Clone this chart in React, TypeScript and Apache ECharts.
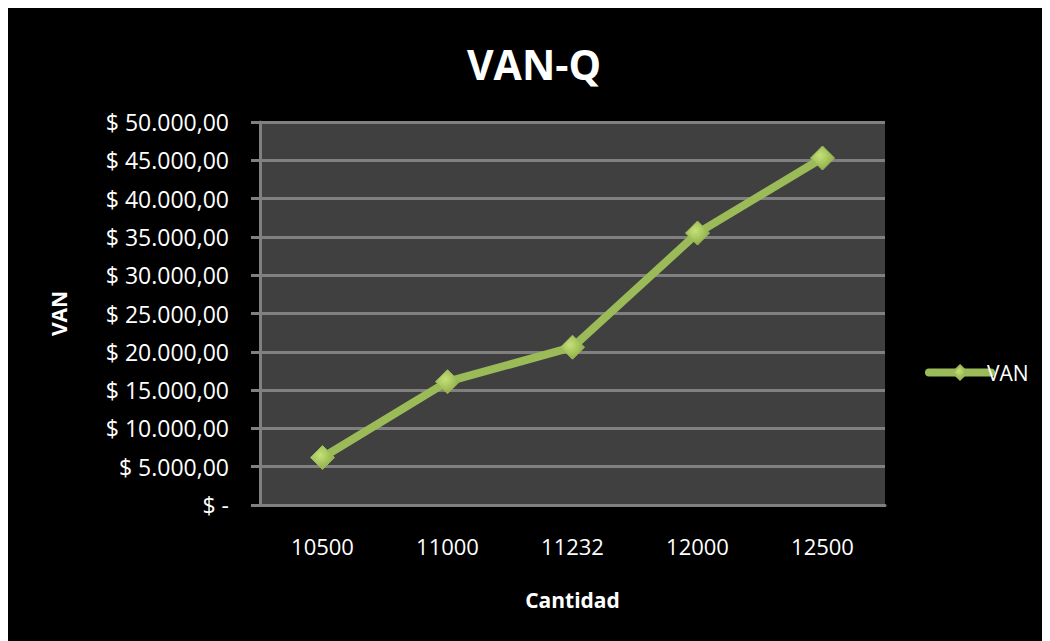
import React, { useEffect, useRef } from "react";
import * as echarts from "echarts";

const categories = ["10500", "11000", "11232", "12000", "12500"];
const vanValues = [6200, 16100, 20600, 35500, 45300];
const seriesName = "VAN";
const titleText = "VAN-Q";
const xName = "Cantidad";
const yName = "VAN";

function fmt(v: number): string {
  if (v === 0) return "$ -";
  const s = Math.round(v).toString().replace(/\B(?=(\d{3})+(?!\d))/g, ".");
  return "$ " + s + ",00";
}

const FONT = "'Open Sans', sans-serif";

export default function App() {
  const ref = useRef<HTMLDivElement>(null);
  useEffect(() => {
    if (!ref.current) return;
    const chart = echarts.init(ref.current, undefined, { renderer: "svg" });
    chart.setOption({
      animation: false,
      backgroundColor: "#000000",
      title: {
        text: titleText,
        left: 521,
        textAlign: "center",
        top: 30,
        textStyle: { color: "#ffffff", fontSize: 41, fontWeight: "bold", fontFamily: FONT },
      },
      legend: {
        data: [seriesName],
        left: 912,
        top: 349,
        orient: "vertical",
        itemWidth: 62,
        itemHeight: 18,
        itemGap: 4,
        lineStyle: { width: 8, cap: "round" },
        textStyle: { color: "#ffffff", fontSize: 21, fontFamily: FONT, padding: [0, 0, 0, -9] },
      },
      grid: { left: 252, right: 165, top: 114, bottom: 136, backgroundColor: "#404040", show: true, borderWidth: 0 },
      xAxis: {
        type: "category",
        data: categories,
        boundaryGap: true,
        name: xName,
        nameLocation: "middle",
        nameGap: 84,
        nameTextStyle: { color: "#ffffff", fontSize: 21, fontWeight: "bold", fontFamily: FONT },
        axisLine: { show: true, lineStyle: { color: "#808080", width: 3 } },
        axisTick: { show: false },
        axisLabel: { color: "#ffffff", fontSize: 22, fontFamily: FONT, margin: 30 },
        splitLine: { show: false },
      },
      yAxis: {
        type: "value",
        min: 0,
        max: 50000,
        interval: 5000,
        name: yName,
        nameLocation: "middle",
        nameGap: 191,
        nameRotate: 90,
        nameTextStyle: { color: "#ffffff", fontSize: 21, fontWeight: "bold", fontFamily: FONT },
        axisLine: { show: true, lineStyle: { color: "#808080", width: 3 } },
        axisTick: { show: true, length: 9, lineStyle: { color: "#808080", width: 3 } },
        axisLabel: { color: "#ffffff", fontSize: 23, fontFamily: FONT, margin: 31, formatter: fmt },
        splitLine: { show: true, lineStyle: { color: "#808080", width: 3 } },
      },
      series: [
        {
          name: seriesName,
          type: "line",
          data: vanValues,
          symbol: "diamond",
          symbolSize: 24,
          lineStyle: { color: "#9bbb59", width: 8 },
          itemStyle: {
            color: new echarts.graphic.RadialGradient(0.4, 0.4, 0.7, [
              { offset: 0, color: "#c6e07a" },
              { offset: 1, color: "#86a83e" },
            ]),
            borderColor: "#9bbb59",
            borderWidth: 1,
          },
          z: 3,
        },
      ],
    });
    return () => chart.dispose();
  }, []);
  return <div ref={ref} style={{ width: 1042, height: 633 }} />;
}
